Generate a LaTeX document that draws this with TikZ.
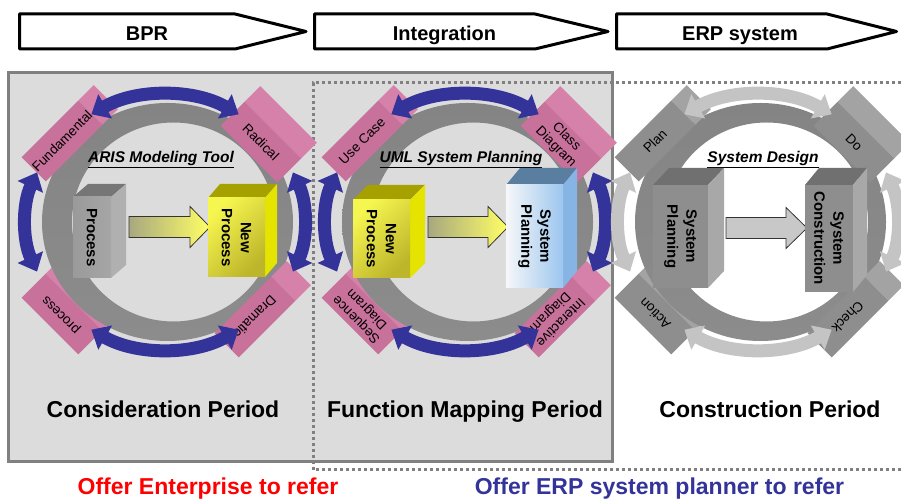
\documentclass[tikz,border=0pt]{standalone}
\usepackage{fontspec}
\setmainfont{Liberation Sans}
\usetikzlibrary{arrows.meta}

\definecolor{panelgray}{HTML}{DCDCDC}
\definecolor{edgegray}{HTML}{808080}
\definecolor{cycblue}{HTML}{333399}
\definecolor{pinkfront}{HTML}{C8719B}
\definecolor{pinkside}{HTML}{D581AA}
\definecolor{greyfront}{HTML}{8E8E8E}
\definecolor{greyside}{HTML}{A3A3A3}
\definecolor{greyarc}{HTML}{C4C4C4}
\definecolor{ringdark}{HTML}{848484}
\definecolor{ringlight}{HTML}{CFCFCF}
\definecolor{ringbottom}{HTML}{8C8C8C}
\definecolor{offerred}{HTML}{FF0000}
\definecolor{offerblue}{HTML}{333399}
\definecolor{steelA}{HTML}{9A9A9A}
\definecolor{steelB}{HTML}{DADADA}
\definecolor{steelC}{HTML}{A6A6A6}
\definecolor{steeltop}{HTML}{767676}
\definecolor{steelside}{HTML}{B0B0B0}
\definecolor{yelA}{HTML}{F6F650}
\definecolor{yelB}{HTML}{BDB52A}
\definecolor{yeltop}{HTML}{A6A000}
\definecolor{yelside}{HTML}{E4E400}
\definecolor{skyA}{HTML}{F6F7F9}
\definecolor{skyB}{HTML}{9CC6EE}
\definecolor{skytop}{HTML}{5A7EA0}
\definecolor{skyside}{HTML}{86B5E5}
\definecolor{gblockfront}{HTML}{8E8E8E}
\definecolor{gblocktop}{HTML}{707070}
\definecolor{gblockside}{HTML}{A8A8A8}
\definecolor{arrowA}{HTML}{A8A880}
\definecolor{arrowB}{HTML}{FFFF66}
\definecolor{arrowgrey}{HTML}{C8C8C8}

\tikzset{
  every node/.style={inner sep=0pt, outer sep=0pt},
  chevron/.style={draw=black, line width=3pt, fill=white, line join=round},
  phase/.style={font=\fontsize{20}{24}\selectfont\bfseries, anchor=base},
  period/.style={font=\fontsize{23}{27}\selectfont\bfseries, anchor=base},
  offer/.style={font=\fontsize{23}{27}\selectfont\bfseries, anchor=base},
  cyctitle/.style={font=\fontsize{15.5}{18}\selectfont\bfseries\itshape, anchor=base},
  tag/.style={font=\fontsize{13.5}{15}\selectfont, align=center},
  blocklabel/.style={font=\fontsize{15}{19}\selectfont\bfseries, align=center, rotate=-90},
  cycarc/.style={line width=13pt,
    {Triangle[width=27pt,length=16pt]}-{Triangle[width=27pt,length=16pt]}},
  dotline/.style={draw=edgegray, line width=3pt, dash pattern=on 3pt off 3pt},
  tagfront/.style={fill=pinkfront},
  tagside/.style={fill=pinkside},
  frontsteel/.style={left color=steelA, middle color=steelB, right color=steelC},
  frontyellow/.style={top color=yelA, bottom color=yelB, shading angle=45},
  frontsky/.style={left color=skyA, right color=skyB},
  frontgrey/.style={fill=gblockfront},
  blockarrowyellow/.style={draw=black!80, line width=0.8pt, left color=arrowA, right color=arrowB},
  blockarrowgrey/.style={draw=black!80, line width=0.8pt, fill=arrowgrey},
}

% four double-headed arcs round a cycle
\newcommand\cyclearcs[1]{%
  \draw[cycarc,color=#1] (58:139 and 127) arc[start angle=58,end angle=122,x radius=139,y radius=127];
  \draw[cycarc,color=#1] (157:139 and 127) arc[start angle=157,end angle=203,x radius=139,y radius=127];
  \draw[cycarc,color=#1] (238:139 and 127) arc[start angle=238,end angle=302,x radius=139,y radius=127];
  \draw[cycarc,color=#1] (-23:139 and 127) arc[start angle=-23,end angle=23,x radius=139,y radius=127];
}

% the shaded ring of a cycle
\newcommand\cycleband{%
  \shade[even odd rule, top color=ringdark, middle color=ringlight, bottom color=ringbottom]
    (2.5,0) ellipse [x radius=125.5, y radius=119]
    (8.5,0) ellipse [x radius=101.5, y radius=99.5];
}

% a tilted label block: name, position, angle, lit strip corners, text
\newcommand\tagbox[6]{%
  \begin{scope}[shift={#2},rotate=#3]
    \fill[tagside] #4 rectangle #5;
    \fill[tagfront] (-40,-17) rectangle (40,17);
    \node[tag,rotate=#3] (#1) at (0,0) {#6};
  \end{scope}}

% a solid block: front corners, depth, front style, top and side colours
\newcommand\prism[9]{%
  \fill[#8] (#1,#4) -- (#3,#4) -- ++(#5,#6) -- ({#1+#5},{#4+#6}) -- cycle;
  \fill[#9] (#3,#2) -- ++(#5,#6) -- ({#3+#5},{#4+#6}) -- (#3,#4) -- cycle;
  \path[#7] (#1,#2) rectangle (#3,#4);}

% a fat arrow: tail x, head x, tip x, centre y, style
\newcommand\fatarrow[5]{%
  \draw[#5] (#1,{#4-10.5}) -- (#2,{#4-10.5}) -- (#2,{#4-20.5}) -- (#3,#4)
    -- (#2,{#4+20.5}) -- (#2,{#4+10.5}) -- (#1,{#4+10.5}) -- cycle;}

\begin{document}
\begin{tikzpicture}[x=1pt,y=1pt]
\useasboundingbox (0,0) rectangle (901,502);
\clip (0,0) rectangle (901,502);

% phase chevrons
\draw[chevron] (19.5,488) -- (235,488) -- (306,470.5) -- (235,453) -- (19.5,453) -- cycle;
\draw[chevron] (314.5,488) -- (535,488) -- (608,470.5) -- (535,453) -- (314.5,453) -- cycle;
\draw[chevron] (616.5,488) -- (827,488) -- (896.5,470.5) -- (827,453) -- (616.5,453) -- cycle;
\node[phase] (bpr) at (147,461) {BPR};
\node[phase] (integ) at (444.5,461) {Integration};
\node[phase] (erp) at (740,461) {ERP system};

% enterprise panel and planner frame
\draw[draw=edgegray, line width=3pt, fill=panelgray] (8,40) rectangle (612,429);
\draw[dotline] (901,419) -- (313,419) -- (313,32) -- (901,32);

% cycle 1
\begin{scope}[shift={(165,280)}]
  \tagbox{proc1}{(-103,-92)}{135}{(-40,-39)}{(40,-17)}{process}
  \cycleband
  \tagbox{fund1}{(-103,81)}{45}{(40,-17)}{(62,17)}{Fundamental}
  \tagbox{rad1}{(96,80)}{-45}{(-40,17)}{(40,39)}{Radical}
  \tagbox{dram1}{(90,-95)}{-135}{(-62,-17)}{(-40,17)}{Dramatic}
  \cyclearcs{cycblue}
\end{scope}

% cycle 2
\begin{scope}[shift={(465,280)}]
  \tagbox{seq2}{(-103,-92)}{135}{(-40,-39)}{(40,-17)}{Sequence\\Diagram}
  \cycleband
  \tagbox{use2}{(-103,81)}{45}{(40,-17)}{(62,17)}{Use Case}
  \tagbox{class2}{(96,80)}{-45}{(-40,17)}{(40,39)}{Class\\Diagram}
  \tagbox{inter2}{(90,-95)}{-135}{(-62,-17)}{(-40,17)}{Interactive\\Diagram}
  \cyclearcs{cycblue}
\end{scope}

% cycle 3
\begin{scope}[shift={(758,280)}, tagfront/.style={fill=greyfront}, tagside/.style={fill=greyside}]
  \tagbox{act3}{(-103,-92)}{135}{(-40,-39)}{(40,-17)}{Action}
  \cycleband
  \tagbox{plan3}{(-103,81)}{45}{(40,-17)}{(62,17)}{Plan}
  \tagbox{do3}{(96,80)}{-45}{(-40,17)}{(40,39)}{Do}
  \tagbox{check3}{(90,-95)}{-135}{(-62,-17)}{(-40,17)}{Check}
  \cyclearcs{greyarc}
\end{scope}

% cycle titles
\node[cyctitle] (t1) at (161,339.5) {\underline{ARIS Modeling Tool}};
\node[cyctitle] (t2) at (461,339.5) {\underline{UML System Planning}};
\node[cyctitle] (t3) at (763,339.5) {\underline{System Design}};

% blocks and fat arrows
\prism{73}{224}{111}{305}{15}{13}{frontsteel}{steeltop}{steelside}
\node[blocklabel] (b1) at (92,264.5) {Process};
\fatarrow{129}{190}{210}{275}{blockarrowyellow}
\prism{208}{225}{265}{304}{12}{14}{frontyellow}{yeltop}{yelside}
\node[blocklabel] (b2) at (236.5,264.5) {New\\Process};

\prism{353}{224}{410}{302}{15}{15}{frontyellow}{yeltop}{yelside}
\node[blocklabel] (b3) at (381.5,263) {New\\Process};
\fatarrow{428}{488}{508}{275}{blockarrowyellow}
\prism{506}{214}{563}{317}{14}{17}{frontsky}{skytop}{skyside}
\node[blocklabel] (b4) at (534.5,265.5) {System\\Planning};

\prism{653}{214}{708}{317}{16}{17}{frontgrey}{gblocktop}{gblockside}
\node[blocklabel] (b5) at (680.5,265.5) {System\\Planning};
\fatarrow{726}{786}{807}{274}{blockarrowgrey}
\prism{805}{210}{853}{317}{14}{17}{frontgrey}{gblocktop}{gblockside}
\node[blocklabel] (b6) at (829,263.5) {System\\Construction};

% period names
\node[period] (p1) at (163,84.7) {Consideration Period};
\node[period] (p2) at (465,84.7) {Function Mapping Period};
\node[period] (p3) at (770,84.7) {Construction Period};

% audiences
\node[offer, text=offerred] (o1) at (208,7) {Offer Enterprise to refer};
\node[offer, text=offerblue] (o2) at (659.5,7) {Offer ERP system planner to refer};
\end{tikzpicture}
\end{document}
